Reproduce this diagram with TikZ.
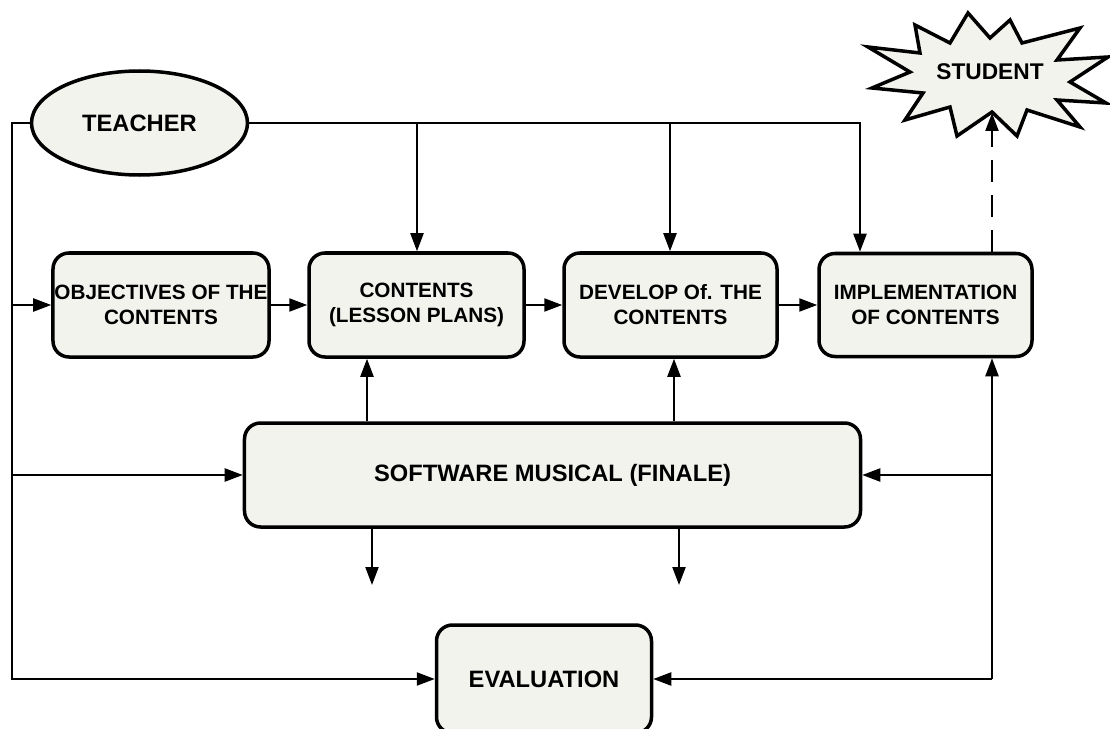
\documentclass[tikz,border=0pt]{standalone}
\usepackage{fontspec}
\setmainfont{Liberation Sans}
\usetikzlibrary{arrows.meta,shapes.geometric,calc}
\definecolor{boxfill}{RGB}{243,243,238}
\tikzset{
  box/.style={draw=black, line width=3.5bp, fill=boxfill, rounded corners=16bp, inner sep=0pt, align=center,
     font=\fontsize{20.8}{25}\selectfont\bfseries},
  conn/.style={line width=2.2bp, -{Triangle[length=18bp,width=13bp]}},
  bigtext/.style={font=\fontsize{23.8}{28}\selectfont\bfseries},
}
\begin{document}
\begin{tikzpicture}[x=1bp,y=-1bp]
\useasboundingbox (0,0) rectangle (1110,729);
% nodes
\node[draw=black, line width=3.5bp, fill=boxfill, ellipse, minimum width=216bp, minimum height=104bp, inner sep=0pt, bigtext] (teacher) at (139.5,123) {TEACHER};
\node[box, minimum width=216bp, minimum height=104bp] (obj) at (161,305) {OBJECTIVES OF THE\\CONTENTS};
\node[box, minimum width=215bp, minimum height=104bp] (cont) at (416.5,305) {CONTENTS\\(LESSON PLANS)};
\node[box, minimum width=213bp, minimum height=104bp] (dev) at (670.5,305) {DEVELOP Of. THE\\CONTENTS};
\node[box, minimum width=213bp, minimum height=103bp] (impl) at (925.5,305) {IMPLEMENTATION\\OF CONTENTS};
\node[box, minimum width=616bp, minimum height=104bp, bigtext] (soft) at (552.5,475) {SOFTWARE MUSICAL (FINALE)};
\node[box, minimum width=215bp, minimum height=108bp, bigtext] (eval) at (544,679) {EVALUATION};
% student starburst
\draw[line width=3.5bp, fill=boxfill, line join=miter]
  (868,47) -- (920,53) -- (915,25) -- (950,43) -- (968,13) -- (990,38) -- (1010,20) -- (1022,43)
  -- (1080,28) -- (1057,60) -- (1108,57) -- (1070,82) -- (1106,103) -- (1057,100) -- (1080,127)
  -- (1027,110) -- (1017,136) -- (992,112) -- (957,136) -- (950,107) -- (905,120) -- (923,93)
  -- (872,88) -- (910,72) -- cycle;
\node[font=\fontsize{22.8}{27}\selectfont\bfseries] (student) at (990,72) {STUDENT};
\coordinate (studbot) at (992,113);
% coordinates
\coordinate (lt) at (12,123);
\coordinate (lo) at (12,305);
\coordinate (ls) at (12,475);
\coordinate (lb) at (12,679);
\coordinate (tc) at (417,123);
\coordinate (td) at (670,123);
\coordinate (ti) at (860,123);
\coordinate (rb) at (992,679);
\coordinate (rs) at (992,475);
\coordinate (sd1) at (372,585);
\coordinate (sd2) at (679,585);
% left trunk
\draw[conn] (teacher.west) -- (lt) -- (lb) -- (eval.west);
\draw[conn] (lo) -- (obj.west);
\draw[conn] (ls) -- (soft.west);
% top line
\draw[conn] (teacher.east) -- (ti) -- (impl.north -| ti);
\draw[conn] (tc) -- (cont.north -| tc);
\draw[conn] (td) -- (dev.north -| td);
% row arrows
\draw[conn] (obj.east) -- (cont.west);
\draw[conn] (cont.east) -- (dev.west);
\draw[conn] (dev.east) -- (impl.west);
% software up and down
\draw[conn] (soft.north -| 367,0) -- (cont.south -| 367,0);
\draw[conn] (soft.north -| 674,0) -- (dev.south -| 674,0);
\draw[conn] (soft.south -| sd1) -- (sd1);
\draw[conn] (soft.south -| sd2) -- (sd2);
% right trunk
\draw[conn] (rb) -- (eval.east);
\draw[conn] (rb) -- (impl.south -| rb);
\draw[conn] (rs) -- (soft.east);
% dashed to student
\draw[conn, dash pattern=on 22bp off 13bp] (impl.north -| studbot) -- (studbot);
\end{tikzpicture}
\end{document}
